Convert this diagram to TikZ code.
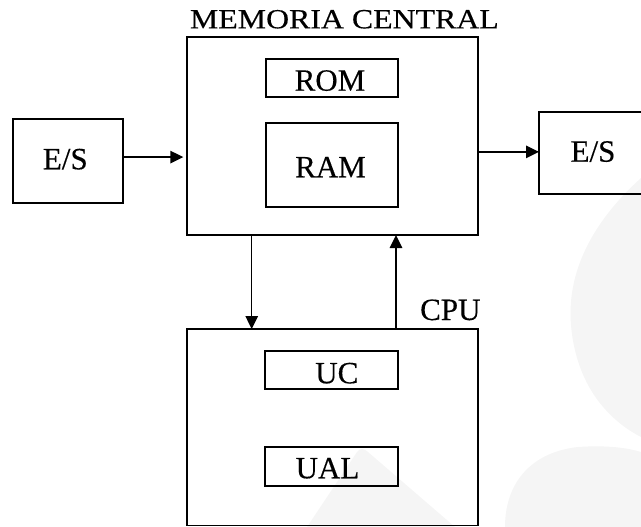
\documentclass[tikz,border=0pt]{standalone}
\usepackage{fontspec}
\setmainfont{Liberation Serif}[FakeBold=0.35]
\usetikzlibrary{arrows.meta,calc}

\tikzset{
  box/.style={draw=black, line width=1.8pt, inner sep=0pt, outer sep=0pt},
  lbl/.style={inner sep=0pt, outer sep=0pt, anchor=base,
              font=\fontsize{31}{31}\selectfont},
  arr/.style={draw=black, line width=1.4pt,
              -{Triangle[length=13pt, width=12.5pt]}},
  emblem/.style={fill=black!4, draw=none}
}

\begin{document}
\begin{tikzpicture}[x=1pt, y=-1pt]
  \useasboundingbox (0,0) rectangle (641,527);
  \clip (0,0) rectangle (641,527);

  % faint background emblem
  \fill[emblem] (641,178) .. controls (600,215) and (566,265) .. (571,325)
    .. controls (576,385) and (608,420) .. (641,437) -- cycle;
  \fill[emblem] (307,527) -- (357,452) .. controls (360,448) and (364,448) .. (368,452)
    -- (455,527) -- cycle;
  \fill[emblem] (505,527) .. controls (505,482) and (532,452) .. (578,447)
    .. controls (608,445) and (628,448) .. (641,452) -- (641,527) -- cycle;

  % boxes
  \node[box, minimum width=110.3pt, minimum height=83.4pt]  (esl) at (67.85,161.1) {};
  \node[box, minimum width=290.7pt, minimum height=197.7pt] (mem) at (332.65,136.15) {};
  \node[box, minimum width=132.3pt, minimum height=38.3pt]  (rom) at (331.85,78.15) {};
  \node[box, minimum width=132.3pt, minimum height=84pt]    (ram) at (331.85,164.7) {};
  \node[box, minimum width=110pt,   minimum height=82.3pt]  (esr) at (594,152.85) {};
  \node[box, minimum width=291pt,   minimum height=196.5pt] (cpu) at (332.8,427.25) {};
  \node[box, minimum width=133.3pt, minimum height=38.6pt]  (uc)  at (331.65,370) {};
  \node[box, minimum width=133.3pt, minimum height=38.7pt]  (ual) at (331.65,466.65) {};

  % labels
  \node[lbl, anchor=base west] (memtitle) at (190,28.3)
    {\scalebox{1.15}[1]{\fontsize{27.7}{27.7}\selectfont MEMORIA CENTRAL}};
  \node[lbl] (romtxt) at (330,90.7)   {ROM};
  \node[lbl] (ramtxt) at (330.5,177.3) {RAM};
  \node[lbl] (esltxt) at (65.3,169.3) {E/S};
  \node[lbl] (esrtxt) at (593,161.7)  {E/S};
  \node[lbl] (cputxt) at (450.3,320)  {CPU};
  \node[lbl] (uctxt)  at (336.8,383.3) {UC};
  \node[lbl] (ualtxt) at (327.5,478.3) {UAL};

  % connectors
  \draw[arr, shorten >=4pt] ([yshift=4pt]esl.east) -- ([yshift=4pt]esl.east -| mem.west);
  \draw[arr] ([yshift=1pt]esr.west -| mem.east) -- ([yshift=1pt]esr.west);
  \draw[arr] ([xshift=64.4pt]mem.south west) -- ([xshift=64.4pt]mem.south west |- cpu.north);
  \draw[arr] ([xshift=208.7pt]cpu.north west) -- ([xshift=208.7pt]cpu.north west |- mem.south);
\end{tikzpicture}
\end{document}
